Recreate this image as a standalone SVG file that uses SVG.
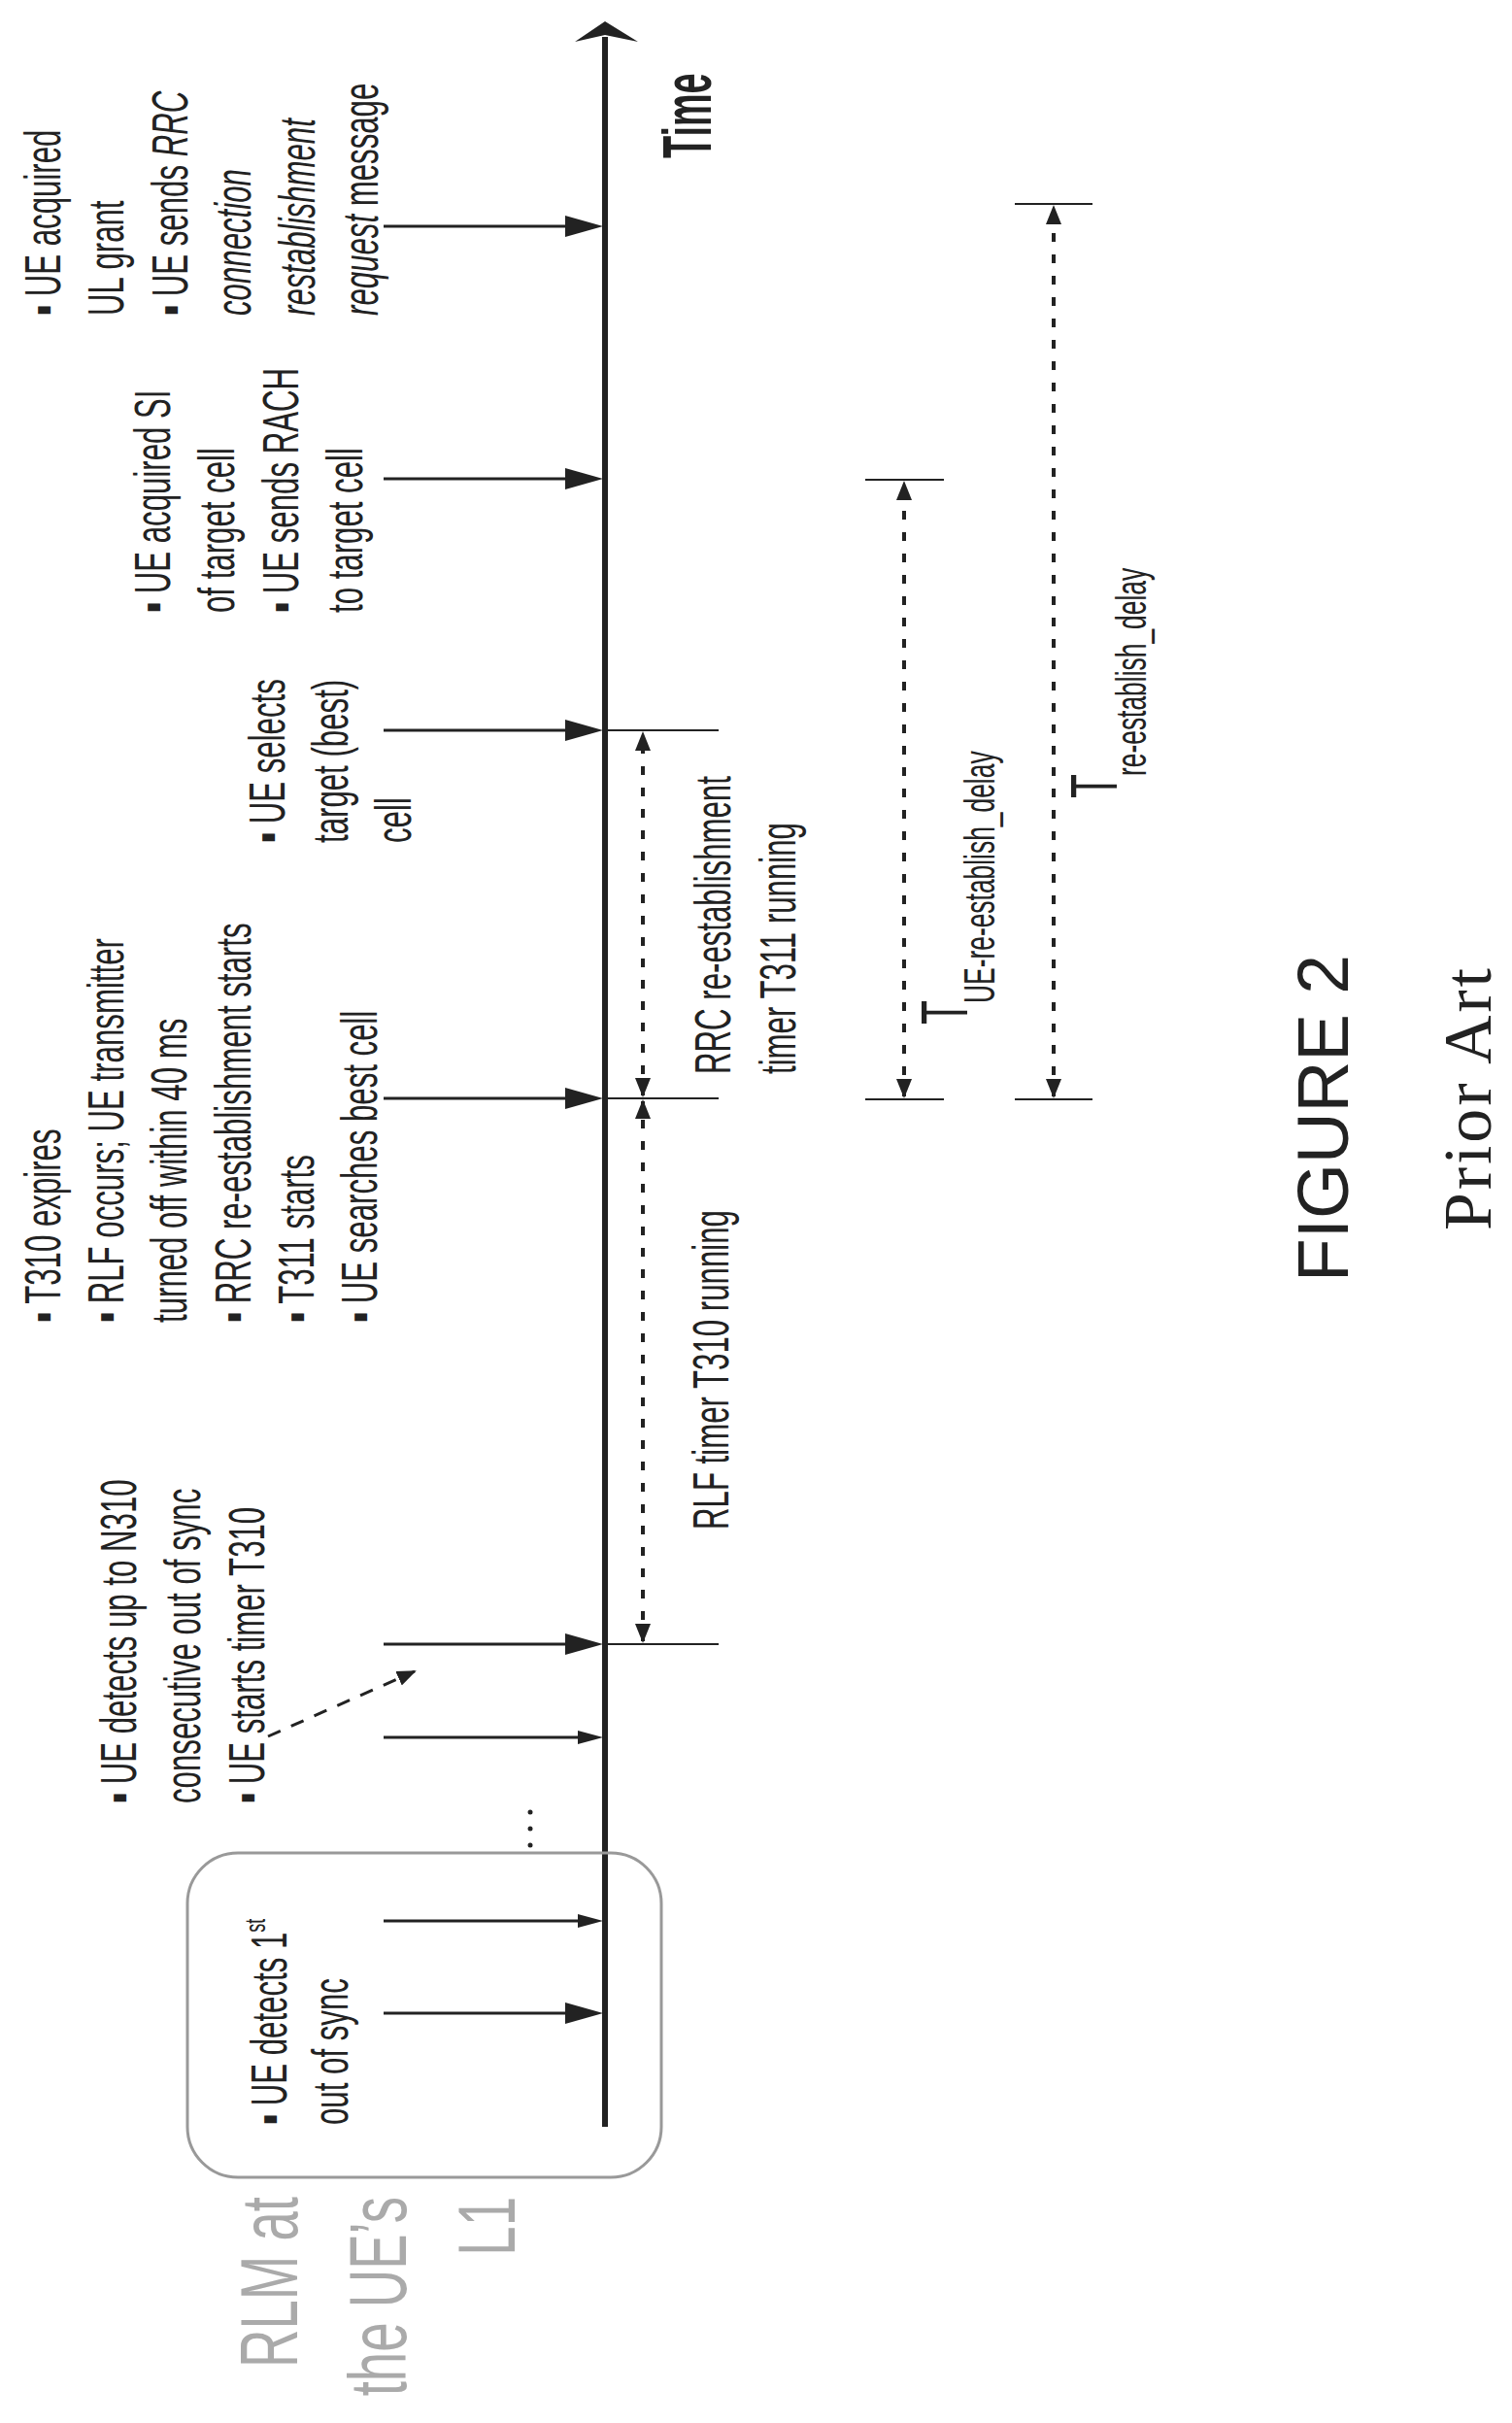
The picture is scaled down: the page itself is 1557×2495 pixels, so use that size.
<svg xmlns="http://www.w3.org/2000/svg" width="1557" height="2495" viewBox="0 0 1557 2495">
<style>
.t{font-family:"Liberation Sans",Arial,sans-serif;font-size:52px;fill:#222}
.g{font-family:"Liberation Sans",Arial,sans-serif;font-size:84px;fill:#aaa}
.ln{stroke:#222;stroke-width:3;fill:none}
.dl{stroke:#222;stroke-width:4;stroke-dasharray:9 13;fill:none}
.ah{fill:#222}
</style>
<defs>
<marker id="dh" viewBox="0 0 20 20" refX="18" refY="10" markerWidth="20" markerHeight="20" markerUnits="userSpaceOnUse" orient="auto-start-reverse">
<path d="M0,2 L20,10 L0,18 Z" fill="#222"/>
</marker>
</defs>
<rect width="1557" height="2495" fill="#fff"/>

<g id="connectors">
<line x1="623" y1="2190" x2="623" y2="38" stroke="#222" stroke-width="6"/>
<polygon points="592,43 623,22 657,43 623,36" class="ah"/>
<!-- event arrows -->
<g class="ln">
<line x1="395" y1="233" x2="590" y2="233"/>
<line x1="395" y1="493" x2="590" y2="493"/>
<line x1="395" y1="752" x2="590" y2="752"/>
<line x1="395" y1="1131" x2="590" y2="1131"/>
<line x1="395" y1="1693" x2="590" y2="1693"/>
<line x1="395" y1="1789" x2="600" y2="1789"/>
<line x1="395" y1="1978" x2="600" y2="1978"/>
<line x1="395" y1="2073" x2="590" y2="2073"/>
</g>
<g class="ah">
<polygon points="582,222 621,233 582,244"/>
<polygon points="582,482 621,493 582,504"/>
<polygon points="582,741 621,752 582,763"/>
<polygon points="582,1120 621,1131 582,1142"/>
<polygon points="582,1682 621,1693 582,1704"/>
<polygon points="595,1782 621,1789 595,1796"/>
<polygon points="595,1971 621,1978 595,1985"/>
<polygon points="582,2062 621,2073 582,2084"/>
</g>
<!-- ticks -->
<g stroke="#222" stroke-width="2">
<line x1="623" y1="752" x2="740" y2="752"/>
<line x1="623" y1="1131" x2="740" y2="1131"/>
<line x1="623" y1="1693" x2="740" y2="1693"/>
<line x1="891" y1="494" x2="972" y2="494"/>
<line x1="891" y1="1132" x2="972" y2="1132"/>
<line x1="1045" y1="210" x2="1125" y2="210"/>
<line x1="1045" y1="1132" x2="1125" y2="1132"/>
</g>
<!-- dimension lines -->
<line x1="662" y1="1690" x2="662" y2="1134" class="dl" marker-start="url(#dh)" marker-end="url(#dh)"/>
<line x1="662" y1="1128" x2="662" y2="755" class="dl" marker-start="url(#dh)" marker-end="url(#dh)"/>
<line x1="931" y1="1129" x2="931" y2="497" class="dl" marker-start="url(#dh)" marker-end="url(#dh)"/>
<line x1="1085" y1="1129" x2="1085" y2="213" class="dl" marker-start="url(#dh)" marker-end="url(#dh)"/>
<!-- dashed pointer -->
<line x1="276" y1="1788" x2="427" y2="1721" stroke="#222" stroke-width="3" stroke-dasharray="14 12" marker-end="url(#dh)"/>
<!-- ellipsis -->
<g fill="#222"><circle cx="546" cy="1866" r="2.5"/><circle cx="546" cy="1883" r="2.5"/><circle cx="546" cy="1900" r="2.5"/></g>
</g>

<g id="rlm-box">
<rect x="193" y="1908" width="488" height="334" rx="52" ry="52" fill="none" stroke="#999" stroke-width="3"/>
</g>

<g id="label-rlm" transform="translate(0,2262) rotate(-90) scale(0.65,1)">
<text class="g" x="0" y="306" text-anchor="end">RLM at</text>
<text class="g" x="0" y="418" text-anchor="end">the UE’s</text>
<text class="g" x="0" y="530" text-anchor="end">L1</text>
</g>

<g id="time" transform="translate(732,163) rotate(-90) scale(0.54,1)">
<text x="0" y="0" style="font-family:'Liberation Sans',Arial,sans-serif;font-size:70px;font-weight:bold;fill:#222">Time</text>
</g>

<g id="node-ul" transform="translate(62,325) rotate(-90) scale(0.6,1)">
<text class="t" x="0" y="0">▪ UE acquired</text>
<text class="t" x="0" y="65.5">UL grant</text>
<text class="t" x="0" y="131">▪ UE sends <tspan font-style="italic">RRC</tspan></text>
<text class="t" x="0" y="196.5" font-style="italic">connection</text>
<text class="t" x="0" y="262" font-style="italic">restablishment</text>
<text class="t" x="0" y="327.5"><tspan font-style="italic">request</tspan> message</text>
</g>

<g id="node-si" transform="translate(175,631) rotate(-90) scale(0.6,1)">
<text class="t" x="0" y="0">▪ UE acquired SI</text>
<text class="t" x="0" y="66">of target cell</text>
<text class="t" x="0" y="132">▪ UE sends RACH</text>
<text class="t" x="0" y="198">to target cell</text>
</g>

<g id="node-select" transform="translate(293,868) rotate(-90) scale(0.6,1)">
<text class="t" x="0" y="0">▪ UE selects</text>
<text class="t" x="0" y="65">target (best)</text>
<text class="t" x="0" y="130">cell</text>
</g>

<g id="node-t310" transform="translate(62,1362) rotate(-90) scale(0.6,1)">
<text class="t" x="0" y="0">▪ T310 expires</text>
<text class="t" x="0" y="65.2">▪ RLF occurs; UE transmitter</text>
<text class="t" x="0" y="130.4">turned off within 40 ms</text>
<text class="t" x="0" y="195.6">▪ RRC re-establishment starts</text>
<text class="t" x="0" y="260.8">▪ T311 starts</text>
<text class="t" x="0" y="326">▪ UE searches best cell</text>
</g>

<g id="node-n310" transform="translate(140,1857) rotate(-90) scale(0.6,1)">
<text class="t" x="0" y="0">▪ UE detects up to N310</text>
<text class="t" x="0" y="66">consecutive out of sync</text>
<text class="t" x="0" y="132">▪ UE starts timer T310</text>
</g>

<g id="node-first" transform="translate(295,2188) rotate(-90) scale(0.6,1)">
<text class="t" x="0" y="0">▪ UE detects 1<tspan font-size="30" dy="-22">st</tspan></text>
<text class="t" x="0" y="63">out of sync</text>
</g>

<g id="label-rlf" transform="translate(750,1575) rotate(-90) scale(0.6,1)">
<text class="t" x="0" y="0">RLF timer T310 running</text>
</g>

<g id="label-rrc" transform="translate(752,1106) rotate(-90) scale(0.6,1)">
<text class="t" x="0" y="0">RRC re-establishment</text>
<text class="t" x="0" y="67">timer T311 running</text>
</g>

<g id="label-tue">
<text class="t" transform="translate(996,1055) rotate(-90) scale(0.6,1)" style="font-size:68px">T</text>
<text class="t" transform="translate(1024,1033) rotate(-90) scale(0.6,1)" style="font-size:44px">UE-re-establish_delay</text>
</g>

<g id="label-tre">
<text class="t" transform="translate(1150,822) rotate(-90) scale(0.6,1)" style="font-size:68px">T</text>
<text class="t" transform="translate(1180,799) rotate(-90) scale(0.6,1)" style="font-size:44px">re-establish_delay</text>
</g>

<g id="caption">
<text transform="translate(1388,1320) rotate(-90)" style="font-family:'Liberation Sans',Arial,sans-serif;font-size:75px;fill:#222" textLength="337" lengthAdjust="spacingAndGlyphs">FIGURE 2</text>
<text transform="translate(1535,1267) rotate(-90)" style="font-family:'Liberation Serif','Times New Roman',serif;font-size:70px;fill:#222" textLength="270" lengthAdjust="spacing">Prior Art</text>
</g>
</svg>
